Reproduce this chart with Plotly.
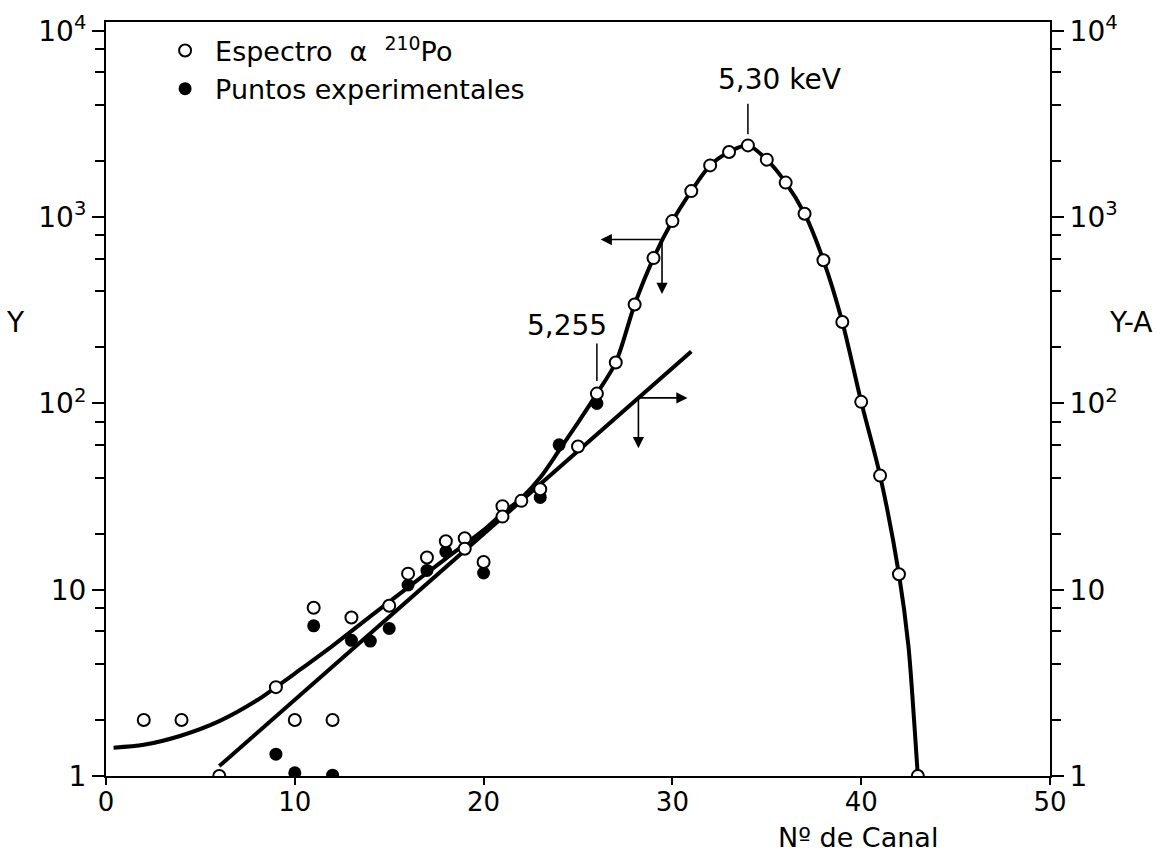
import numpy as np
import plotly.graph_objects as go

# ---- data ----
# open circles: alpha spectrum of 210Po (Y)
spec_x = [2, 4, 6, 9, 10, 11, 12, 13, 15, 16, 17, 18, 19, 19, 20, 21, 21, 22, 23, 25,
          26, 27, 28, 29, 30, 31, 32, 33, 34, 35, 36, 37, 38, 39, 40, 41, 42, 43]
spec_y = [2.0, 2.0, 1.0, 3.0, 2.0, 8.0, 2.0, 7.1, 8.2, 12.2, 14.9, 18.2, 18.9, 16.6, 14.1, 28.1, 24.7, 30.0, 34.6, 58.7,
          113, 166, 340, 603, 953, 1381, 1897, 2240, 2430, 2037, 1534, 1044, 587, 274, 102, 41, 12.1, 1.0]

# filled circles: experimental points (Y-A)
exp_x = [9, 10, 11, 12, 13, 14, 15, 16, 17, 18, 20, 23, 24, 26]
exp_y = [1.31, 1.04, 6.4, 1.01, 5.35, 5.3, 6.2, 10.6, 12.7, 16.0, 12.3, 31.3, 60, 100]

# smooth curve drawn through the spectrum
curve_x = [0.4, 2, 4, 6, 8, 9, 10, 12, 14, 16, 18, 20, 21, 22, 23, 24, 25, 26, 27, 28, 29, 30,
           31, 32, 33, 34, 35, 36, 37, 38, 39, 40, 41, 42, 42.5, 42.8, 43]
curve_y = [1.42, 1.47, 1.65, 1.97, 2.55, 3.0, 3.55, 5.0, 7.2, 10.3, 14.7, 20.9, 25.7, 31, 40, 56, 79, 113, 166, 340, 603, 953,
           1381, 1897, 2240, 2430, 2037, 1534, 1044, 587, 274, 102, 41, 12.1, 5.0, 2.0, 1.0]

# straight fit line (Y-A)
fit_x = [6, 31]
fit_y = [1.13, 190]

x_ticks = [0, 10, 20, 30, 40, 50]
y_ticks = [1, 10, 100, 1000, 10000]
y_ticktext = ["1", "10", "10<sup>2</sup>", "10<sup>3</sup>", "10<sup>4</sup>"]
y_minor = [m * 10 ** d for d in range(4) for m in (2, 4, 6, 8)]

FONT = "DejaVu Sans"
TICK = 28

fig = go.Figure()
fig.add_trace(go.Scatter(x=curve_x, y=curve_y, mode="lines", line=dict(color="black", width=4, shape="spline", smoothing=0.8),
                         showlegend=False, hoverinfo="skip", yaxis="y"))
fig.add_trace(go.Scatter(x=fit_x, y=fit_y, mode="lines", line=dict(color="black", width=4),
                         showlegend=False, hoverinfo="skip", yaxis="y2"))
fig.add_trace(go.Scatter(x=exp_x, y=exp_y, mode="markers", name="Puntos experimentales", legendgroup="b",
                         legendrank=2, marker=dict(symbol="circle", size=13, color="black"), yaxis="y2"))
fig.add_trace(go.Scatter(x=spec_x, y=spec_y, mode="markers", name="Espectro  α  <sup>210</sup>Po", legendgroup="a",
                         legendrank=1, marker=dict(symbol="circle", size=12, color="white", line=dict(color="black", width=2)),
                         yaxis="y2"))

annotations = []
# leader lines and labels
annotations.append(dict(x=34, y=3.445, ax=34, ay=3.617, xref="x", yref="y", axref="x", ayref="y",
                        text="", showarrow=True, arrowhead=0, arrowwidth=1.5, arrowcolor="black"))
annotations.append(dict(x=35.65, y=3.74, xref="x", yref="y", text="5,30 keV", showarrow=False,
                        xanchor="center", yanchor="middle", font=dict(size=28, family=FONT, color="black")))
annotations.append(dict(x=26, y=2.12, ax=26, ay=2.33, xref="x", yref="y", axref="x", ayref="y",
                        text="", showarrow=True, arrowhead=0, arrowwidth=1.5, arrowcolor="black"))
annotations.append(dict(x=24.4, y=2.42, xref="x", yref="y", text="5,255", showarrow=False,
                        xanchor="center", yanchor="middle", font=dict(size=28, family=FONT, color="black")))
# arrows pointing to the axes
arrows = [
    (26.2, 2.88, 29.45, 2.88),   # left arrow (to Y axis)
    (29.45, 2.588, 29.45, 2.88),  # down
    (30.8, 2.03, 28.2, 2.03),    # right arrow (to Y-A axis)
    (28.2, 1.76, 28.2, 2.03),    # down
]
for hx, hy, tx, ty in arrows:
    annotations.append(dict(x=hx, y=hy, ax=tx, ay=ty, xref="x", yref="y", axref="x", ayref="y", text="",
                            showarrow=True, arrowhead=2, arrowsize=1.4, arrowwidth=1.6, arrowcolor="black"))
# axis titles
annotations.append(dict(x=-0.096, y=0.602, xref="paper", yref="paper", text="Y", showarrow=False,
                        xanchor="center", yanchor="middle", font=dict(size=TICK, family=FONT, color="black")))
annotations.append(dict(x=1.085, y=0.602, xref="paper", yref="paper", text="Y-A", showarrow=False,
                        xanchor="center", yanchor="middle", font=dict(size=TICK, family=FONT, color="black")))
annotations.append(dict(x=0.797, y=-0.081, xref="paper", yref="paper", text="Nº de Canal", showarrow=False,
                        xanchor="center", yanchor="middle", font=dict(size=27, family=FONT, color="black")))

yax = dict(type="log", range=[0, 4.048], tickmode="array", tickvals=y_ticks, ticktext=y_ticktext,
           ticks="outside", ticklen=12, tickwidth=2, tickcolor="black", showline=True, linewidth=2,
           linecolor="black", showgrid=False, zeroline=False,
           minor=dict(tickmode="array", tickvals=y_minor, ticks="outside", ticklen=9, tickwidth=2, tickcolor="black",
                      showgrid=False),
           tickfont=dict(size=TICK, family=FONT, color="black"))

fig.update_layout(
    width=1167, height=863,
    margin=dict(l=106, r=117, t=22, b=87),
    paper_bgcolor="white", plot_bgcolor="white",
    xaxis=dict(range=[0, 50], tickmode="array", tickvals=x_ticks, ticks="outside", ticklen=7, tickwidth=2,
               tickcolor="black", showline=True, linewidth=2, linecolor="black", mirror=True, showgrid=False,
               zeroline=False, ticklabelstandoff=-5, tickfont=dict(size=26, family=FONT, color="black")),
    yaxis=yax,
    yaxis2=dict(yax, overlaying="y", side="right", anchor="x"),
    legend=dict(x=0.052, y=0.994, xanchor="left", yanchor="top", bgcolor="rgba(0,0,0,0)",
                font=dict(size=27, family=FONT, color="black"), tracegroupgap=14, traceorder="normal",
                itemwidth=50),
    annotations=annotations,
    font=dict(family=FONT, color="black"),
)

fig.write_html("out.html")
